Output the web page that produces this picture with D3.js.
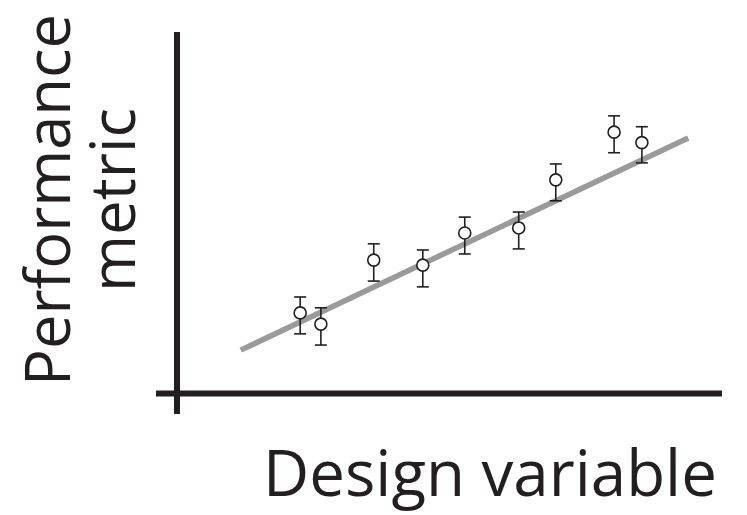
<!DOCTYPE html>
<html><head><meta charset="utf-8">
<script src="https://d3js.org/d3.v7.min.js"></script>
<style>body{margin:0;background:#fff}</style>
</head><body>
<svg id="c" width="747" height="515"></svg>
<script>
const xVals = [2.26, 2.64, 3.61, 4.51, 5.28, 6.27, 6.95, 8.02, 8.53];
const yVals = [2.23, 1.92, 3.69, 3.55, 4.44, 4.58, 5.91, 7.23, 6.94];
const yHi   = [2.67, 2.37, 4.14, 3.97, 4.88, 5.02, 6.35, 7.68, 7.38];
const yLo   = [1.65, 1.34, 3.11, 2.95, 3.86, 4.00, 5.33, 6.66, 6.38];
const fitX = [1.17, 9.38];
const fitY = [1.20, 7.07];
const xLabel = "Design variable";
const yLabel = ["Performance", "metric"];

const svg = d3.select("#c");
const x = d3.scaleLinear().domain([0, 10]).range([177, 722]);
const y = d3.scaleLinear().domain([0, 10]).range([393.5, 32]);
const ink = "#231f20";

// axes
svg.append("line").attr("x1", x(0)).attr("x2", x(0)).attr("y1", y(10)).attr("y2", 414)
  .attr("stroke", ink).attr("stroke-width", 6);
svg.append("line").attr("x1", 156).attr("x2", x(10)).attr("y1", y(0)).attr("y2", y(0))
  .attr("stroke", ink).attr("stroke-width", 6);

// fit line
svg.append("line").attr("x1", x(fitX[0])).attr("y1", y(fitY[0]))
  .attr("x2", x(fitX[1])).attr("y2", y(fitY[1]))
  .attr("stroke", "#9a9a9a").attr("stroke-width", 5.5);

const pts = xVals.map((v, i) => ({x: v, y: yVals[i], hi: yHi[i], lo: yLo[i]}));
const g = svg.append("g").selectAll("g").data(pts).join("g");
const cap = 6;
g.append("line").attr("x1", d => x(d.x)).attr("x2", d => x(d.x))
  .attr("y1", d => y(d.hi)).attr("y2", d => y(d.lo)).attr("stroke", ink).attr("stroke-width", 1.6);
g.append("line").attr("x1", d => x(d.x) - cap).attr("x2", d => x(d.x) + cap)
  .attr("y1", d => y(d.hi)).attr("y2", d => y(d.hi)).attr("stroke", ink).attr("stroke-width", 1.6);
g.append("line").attr("x1", d => x(d.x) - cap).attr("x2", d => x(d.x) + cap)
  .attr("y1", d => y(d.lo)).attr("y2", d => y(d.lo)).attr("stroke", ink).attr("stroke-width", 1.6);
g.append("circle").attr("cx", d => x(d.x)).attr("cy", d => y(d.y)).attr("r", 6)
  .attr("fill", "#fff").attr("stroke", ink).attr("stroke-width", 1.6);

const font = "'Open Sans', sans-serif";
function fit(t, w) {
  const l = t.node().getComputedTextLength();
  const fs = parseFloat(t.attr("font-size"));
  t.attr("font-size", fs * w / l);
}
const xt = svg.append("text").attr("x", 490).attr("y", 496).attr("text-anchor", "middle")
  .attr("font-family", font).attr("font-size", 66).attr("fill", ink).text(xLabel);
fit(xt, 454);
const yt1 = svg.append("text").attr("transform", "translate(70,200) rotate(-90)")
  .attr("text-anchor", "middle").attr("font-family", font).attr("font-size", 66)
  .attr("fill", ink).text(yLabel[0]);
fit(yt1, 372);
const yt2 = svg.append("text").attr("transform", "translate(135,200) rotate(-90)")
  .attr("text-anchor", "middle").attr("font-family", font).attr("font-size", 66)
  .attr("fill", ink).text(yLabel[1]);
fit(yt2, 184);
</script>
</body></html>
